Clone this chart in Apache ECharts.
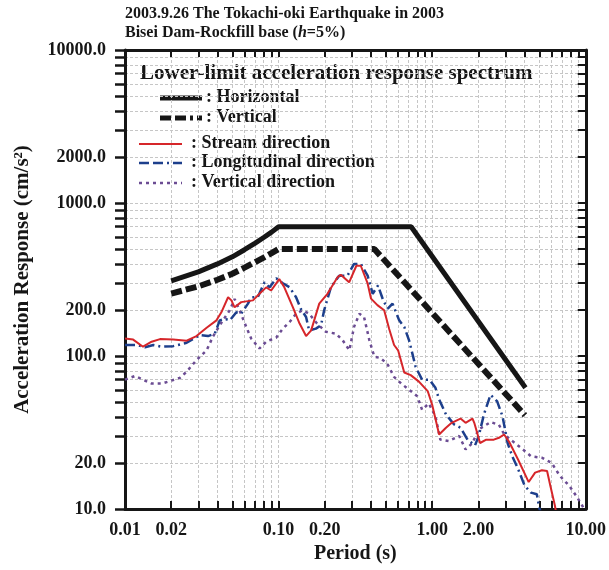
<!DOCTYPE html>
<html>
<head>
<meta charset="utf-8">
<script src="https://cdn.jsdelivr.net/npm/echarts@6/dist/echarts.min.js"></script>
<style>
  html, body { margin: 0; padding: 0; background: #fff; }
  #chart { width: 609px; height: 570px; }
</style>
</head>
<body>
<div id="chart"></div>
<script>
  // axis ticks and labels
  const periodLabels = [0.01, 0.02, 0.1, 0.2, 1, 2, 10]
  const periodTicks = [0.01, 0.02, 0.03, 0.04, 0.05, 0.06, 0.07, 0.08, 0.09,
    0.1, 0.2, 0.3, 0.4, 0.5, 0.6, 0.7, 0.8, 0.9, 1, 2, 3, 4, 5, 6, 7, 8, 9, 10]
  const accelLabels = [10, 20, 100, 200, 1000, 2000, 10000]
  const accelTicks = [10, 20, 30, 40, 50, 60, 70, 80, 90, 100, 200, 300, 400, 500,
    600, 700, 800, 900, 1000, 2000, 3000, 4000, 5000, 6000, 7000, 8000, 9000, 10000]

  // lower-limit spectra
  const horizT = [0.02, 0.03, 0.04, 0.05, 0.06, 0.07, 0.08, 0.09, 0.1, 0.73, 4.05]
  const horizA = [310, 355, 400, 445, 495, 545, 595, 645, 700, 700, 62]
  const vertT = [0.02, 0.03, 0.04, 0.05, 0.06, 0.07, 0.08, 0.09, 0.1, 0.42, 4.02]
  const vertA = [256, 285, 315, 345, 378, 410, 440, 470, 500, 500, 41]

  // observed spectra
  const streamT = [0.01, 0.0113, 0.0131, 0.0149, 0.0169, 0.0206, 0.0252, 0.0292, 0.034, 0.0394,
    0.0424, 0.0469, 0.0493, 0.0517, 0.0571, 0.0681, 0.0751, 0.083, 0.0895, 0.101,
    0.109, 0.124, 0.137, 0.151, 0.163, 0.184, 0.208, 0.242, 0.254, 0.288,
    0.321, 0.343, 0.38, 0.4, 0.44, 0.487, 0.525, 0.565, 0.6, 0.658,
    0.725, 0.82, 0.935, 1.0, 1.11, 1.23, 1.34, 1.53, 1.65, 1.83,
    1.88, 2.05, 2.25, 2.52, 2.72, 2.94, 3.17, 3.63, 4.25, 4.68,
    5.18, 5.6, 5.88, 6.3, 6.6]
  const streamA = [130, 128, 115, 124, 129, 128, 126, 135, 153, 171,
    193, 242, 231, 208, 225, 231, 255, 281, 268, 318,
    281, 208, 163, 135, 147, 220, 255, 327, 340, 303,
    389, 389, 298, 237, 215, 199, 150, 118, 109, 78,
    75, 68, 59, 48, 30.7, 34, 36.6, 39, 36.6, 39,
    36.6, 27, 28.4, 28.4, 29.2, 30.7, 27.5, 21, 15, 17.3,
    17.9, 17.7, 14.2, 10.5, 8]
  const longT = [0.01, 0.0119, 0.0135, 0.0153, 0.0173, 0.0206, 0.0252, 0.0307, 0.0347, 0.0384,
    0.0414, 0.0446, 0.0481, 0.0531, 0.0571, 0.0632, 0.0663, 0.0731, 0.081, 0.0874,
    0.0966, 0.106, 0.118, 0.13, 0.14, 0.151, 0.158, 0.175, 0.189, 0.198,
    0.219, 0.248, 0.281, 0.31, 0.343, 0.38, 0.41, 0.444, 0.48, 0.514,
    0.552, 0.61, 0.658, 0.71, 0.78, 0.86, 0.96, 1.05, 1.11, 1.23,
    1.39, 1.53, 1.7, 1.9, 2.01, 2.18, 2.4, 2.65, 2.87, 3.1,
    3.33, 3.63, 4.0, 4.4, 4.8, 5.0, 5.3]
  const longA = [118, 118, 114, 118, 115, 116, 122, 137, 135, 140,
    171, 175, 171, 193, 189, 220, 242, 242, 303, 281,
    322, 300, 281, 242, 202, 180, 147, 151, 159, 199,
    281, 335, 335, 400, 400, 335, 255, 289, 231, 204,
    220, 171, 155, 125, 85, 70, 70, 62, 52, 41.5,
    35.7, 34, 28.4, 26, 30, 42, 55.8, 50.5, 40.4, 27,
    22, 18.2, 14.2, 12.8, 12.5, 10, 8.5]
  const vertDirT = [0.01, 0.0116, 0.0131, 0.0149, 0.0173, 0.02, 0.0228, 0.0252, 0.0292, 0.034,
    0.0374, 0.0414, 0.0481, 0.0517, 0.0557, 0.0616, 0.0663, 0.0751, 0.083, 0.0966,
    0.106, 0.118, 0.13, 0.143, 0.158, 0.178, 0.203, 0.236, 0.261, 0.289,
    0.31, 0.336, 0.36, 0.39, 0.42, 0.46, 0.51, 0.565, 0.63, 0.71,
    0.8, 0.86, 0.95, 1.05, 1.13, 1.28, 1.5, 1.65, 1.83, 2.0,
    2.4, 2.72, 2.95, 3.33, 3.9, 4.4, 5.2, 6.0, 6.8, 7.8,
    8.8, 9.5, 10]
  const vertDirA = [70, 74, 70, 66, 66, 69, 72, 79, 94, 109,
    134, 159, 199, 236, 199, 155, 130, 112, 124, 132,
    150, 167, 189, 199, 189, 163, 144, 140, 127, 109,
    155, 189, 180, 127, 99, 97, 89, 73, 66, 60,
    54.5, 44.5, 49, 40.4, 28.4, 27.8, 30, 24.5, 27, 33,
    37, 35.5, 30.7, 27.8, 24.5, 22.1, 21.6, 20, 16.4, 14.2,
    11.9, 10.5, 9.5]

  const serif = '"Liberation Serif", "DejaVu Serif", serif'
  const ink = '#161616'
  const gridColor = '#c6c6c6'

  function pairs(xs, ys) {
    return xs.map((x, i) => [x, ys[i]])
  }

  function tickAxis(extra) {
    return Object.assign({
      type: 'log',
      logBase: 10,
      axisLine: { show: true, onZero: false, lineStyle: { color: ink, width: 3 } },
      axisTick: { show: true, inside: true, length: 7, lineStyle: { color: ink, width: 2 } },
      axisLabel: { show: false },
      splitLine: { show: false }
    }, extra)
  }

  const chart = echarts.init(document.getElementById('chart'), null, { renderer: 'canvas' })

  chart.setOption({
    backgroundColor: '#fff',
    animation: false,
    grid: { left: 125, right: 22, top: 50, bottom: 61 },
    xAxis: [
      tickAxis({
        position: 'bottom',
        min: 0.01,
        max: 10,
        axisTick: { show: true, inside: true, length: 8, customValues: periodTicks, lineStyle: { color: ink, width: 2 } },
        axisLabel: {
          show: true,
          customValues: periodLabels,
          formatter: v => Number(v).toFixed(2),
          margin: 12,
          fontFamily: serif, fontWeight: 'bold', fontSize: 18, color: ink
        },
        splitLine: { show: true, lineStyle: { color: gridColor, width: 1, type: [3, 2] } },
        name: 'Period (s)',
        nameLocation: 'middle',
        nameGap: 32,
        nameTextStyle: { fontFamily: serif, fontWeight: 'bold', fontSize: 20, color: ink }
      }),
      tickAxis({
        position: 'top',
        min: 0.01,
        max: 10,
        axisTick: { show: true, inside: true, length: 7, customValues: periodTicks, lineStyle: { color: ink, width: 2 } }
      })
    ],
    yAxis: [
      tickAxis({
        position: 'left',
        min: 10,
        max: 10000,
        axisTick: { show: true, inside: false, length: 10, customValues: accelTicks, lineStyle: { color: ink, width: 2.5 } },
        axisLabel: {
          show: true,
          customValues: accelLabels,
          formatter: v => Number(v).toFixed(1),
          margin: 19,
          fontFamily: serif, fontWeight: 'bold', fontSize: 18, color: ink
        },
        splitLine: { show: true, lineStyle: { color: gridColor, width: 1, type: [3, 2] } },
        name: 'Acceleration Response (cm/s²)',
        nameLocation: 'middle',
        nameGap: 92,
        nameTextStyle: { fontFamily: serif, fontWeight: 'bold', fontSize: 21, color: ink }
      }),
      tickAxis({
        position: 'right',
        min: 10,
        max: 10000,
        axisTick: { show: true, inside: true, length: 8, customValues: accelTicks, lineStyle: { color: ink, width: 2 } }
      })
    ],
    series: [
      {
        name: 'Vertical direction',
        type: 'line',
        data: pairs(vertDirT, vertDirA),
        showSymbol: false,
        lineStyle: { color: '#6b4c93', width: 2.5, type: [3, 4] },
        z: 2
      },
      {
        name: 'Longitudinal direction',
        type: 'line',
        data: pairs(longT, longA),
        showSymbol: false,
        lineStyle: { color: '#1d3f8c', width: 2.5, type: [10, 4, 2, 4] },
        z: 3
      },
      {
        name: 'Stream direction',
        type: 'line',
        data: pairs(streamT, streamA),
        showSymbol: false,
        lineStyle: { color: '#d6262a', width: 2 },
        z: 4
      },
      {
        name: 'Vertical',
        type: 'line',
        data: pairs(vertT, vertA),
        showSymbol: false,
        lineStyle: { color: ink, width: 6, type: [11, 4] },
        z: 5
      },
      {
        name: 'Horizontal',
        type: 'line',
        data: pairs(horizT, horizA),
        showSymbol: false,
        lineStyle: { color: ink, width: 5 },
        z: 6
      }
    ],
    graphic: [
      {
        type: 'text', left: 125, top: 6,
        style: { text: '2003.9.26 The Tokachi-oki Earthquake in 2003', font: 'bold 16px ' + serif, fill: ink }
      },
      {
        type: 'text', left: 125, top: 25,
        style: {
          text: 'Bisei Dam-Rockfill base ({i|h}=5%)',
          font: 'bold 16px ' + serif, fill: ink,
          rich: { i: { fontStyle: 'italic', fontWeight: 'bold', fontSize: 16, fontFamily: serif } }
        }
      },
      {
        type: 'text', left: 140, top: 63,
        style: { text: 'Lower-limit acceleration response spectrum', font: 'bold 21px ' + serif, fill: ink }
      },
      // legend samples
      { type: 'line', shape: { x1: 160, y1: 98, x2: 202, y2: 98 }, style: { stroke: ink, lineWidth: 5 } },
      { type: 'line', shape: { x1: 160, y1: 118, x2: 202, y2: 118 }, style: { stroke: ink, lineWidth: 5, lineDash: [11, 4, 11, 4, 3, 4] } },
      { type: 'line', shape: { x1: 139, y1: 144, x2: 182, y2: 144 }, style: { stroke: '#d6262a', lineWidth: 2 } },
      { type: 'line', shape: { x1: 139, y1: 163, x2: 182, y2: 163 }, style: { stroke: '#1d3f8c', lineWidth: 2.5, lineDash: [10, 4, 10, 4, 2, 4] } },
      { type: 'line', shape: { x1: 139, y1: 183, x2: 182, y2: 183 }, style: { stroke: '#6b4c93', lineWidth: 2.5, lineDash: [3, 4] } },
      { type: 'text', left: 206, top: 88, style: { text: ': Horizontal', font: 'bold 18px ' + serif, fill: ink } },
      { type: 'text', left: 206, top: 108, style: { text: ': Vertical', font: 'bold 18px ' + serif, fill: ink } },
      { type: 'text', left: 191, top: 134, style: { text: ': Stream direction', font: 'bold 18px ' + serif, fill: ink } },
      { type: 'text', left: 191, top: 153, style: { text: ': Longitudinal direction', font: 'bold 18px ' + serif, fill: ink } },
      { type: 'text', left: 191, top: 173, style: { text: ': Vertical direction', font: 'bold 18px ' + serif, fill: ink } }
    ]
  })
</script>
</body>
</html>
